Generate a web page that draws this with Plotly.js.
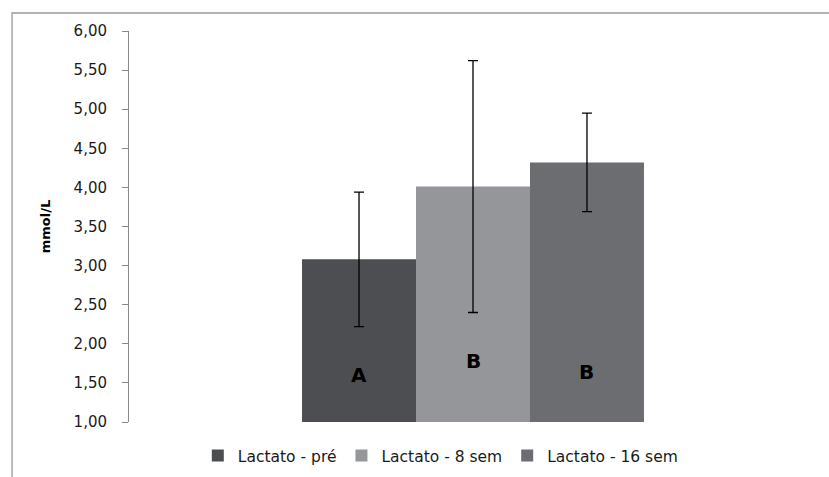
<!DOCTYPE html>
<html>
<head>
<meta charset="utf-8">
<script src="https://cdn.plot.ly/plotly-3.0.1.min.js"></script>
<style>
html,body{margin:0;padding:0;background:#fff;}
#chart{width:829px;height:477px;}
</style>
</head>
<body>
<div id="chart"></div>
<script>
// Data
var seriesNames = ["Lactato - pré", "Lactato - 8 sem", "Lactato - 16 sem"];
var means = [3.08, 4.01, 4.32];
var errors = [0.86, 1.61, 0.63];
var groupLabels = ["A", "B", "B"];
var labelY = [1.60, 1.78, 1.64];
var colors = ["#4d4e52", "#949699", "#6c6d71"];
var yTicks = [1, 1.5, 2, 2.5, 3, 3.5, 4, 4.5, 5, 5.5, 6];

var bargap = 0.503;
var traces = seriesNames.map(function (name, i) {
  return {
    type: "bar",
    name: name,
    x: [""],
    y: [means[i]],
    marker: {color: colors[i], line: {width: 0}},
    error_y: {type: "data", array: [errors[i]], visible: true, color: "#000", thickness: 1.3, width: 5}
  };
});

var barW = (1 - bargap) / seriesNames.length;
var annotations = groupLabels.map(function (t, i) {
  return {
    x: (i - (seriesNames.length - 1) / 2) * barW,
    y: labelY[i],
    xref: "x", yref: "y",
    text: "<b>" + t + "</b>",
    showarrow: false,
    font: {family: "DejaVu Sans", size: 20, color: "#000"}
  };
});

var layout = {
  width: 829, height: 477,
  margin: {l: 129, r: 12, t: 31, b: 55, autoexpand: false},
  paper_bgcolor: "#fff", plot_bgcolor: "#fff",
  font: {family: "DejaVu Sans", size: 13, color: "#1a1a1a"},
  barmode: "group",
  bargap: bargap,
  bargroupgap: 0,
  showlegend: true,
  legend: {
    orientation: "h", x: 0.1, xanchor: "left", y: -0.087, yanchor: "middle",
    font: {family: "DejaVu Sans", size: 15.5, color: "#1a1a1a"},
    traceorder: "normal"
  },
  xaxis: {
    type: "category", showticklabels: false, showline: false, ticks: "",
    showgrid: false, zeroline: false, range: [-0.5, 0.5], fixedrange: true
  },
  yaxis: {
    range: [1, 6], tickvals: yTicks, tickformat: ".2f",
    ticks: "outside", ticklen: 6, tickcolor: "#8a8a8a", tickwidth: 1,
    showline: true, linecolor: "#8a8a8a", linewidth: 1,
    showgrid: false, zeroline: false,
    ticklabelstandoff: 12,
    tickfont: {family: "DejaVu Sans", size: 15, color: "#1a1a1a"},
    title: {text: "<b>mmol/L</b>", standoff: 20, font: {family: "DejaVu Sans", size: 13, color: "#000"}}
  },
  separators: ",.",
  annotations: annotations,
  shapes: [{
    type: "path", xref: "paper", yref: "paper",
    path: "M -0.170 -0.3 L -0.170 1.046 L 1.1 1.046",
    line: {color: "#9a9a9a", width: 1.3}
  }]
};

Plotly.newPlot("chart", traces, layout, {staticPlot: true, displayModeBar: false});
</script>
</body>
</html>
